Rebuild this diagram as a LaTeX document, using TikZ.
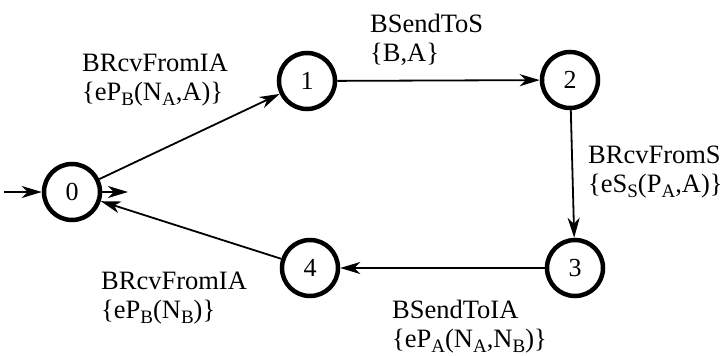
\documentclass[tikz,border=0pt]{standalone}
\usepackage{fontspec}
\setmainfont{Liberation Serif}
\usetikzlibrary{arrows.meta}
% lowered, smaller subscript letters in the message terms
\newcommand\lsub[1]{\raisebox{-0.22em}{\fontsize{19}{19}\selectfont #1}}
\begin{document}
\begin{tikzpicture}[x=1pt,y=-1pt,
  state/.style={circle,draw,line width=4.5pt,minimum size=56pt,inner sep=0pt,
    font=\fontsize{26}{28.5}\selectfont},
  trans/.style={line width=1.8pt,-{Stealth[length=20pt,width=12pt,inset=6pt]}},
  lbl/.style={anchor=base west,align=left,inner sep=0pt,
    font=\fontsize{26.5}{28.5}\selectfont}]
\useasboundingbox (0,0) rectangle (726,356);

% states
\node[state] (n0) at (72,192) {0};
\node[state] (n1) at (307,81) {1};
\node[state] (n2) at (570,80) {2};
\node[state] (n3) at (575,268) {3};
\node[state] (n4) at (310,268) {4};

% entry and exit stubs of state 0
\coordinate (entry) at (4,192);
\coordinate (exit) at (128,192);
\draw[trans] (entry) -- (n0);
\draw[trans] (n0) -- (exit);

% transitions
\draw[trans] (n0) -- (n1);
\draw[trans] (n1) -- (n2);
\draw[trans] (n2) -- (n3);
\draw[trans] (n3) -- (n4);
\draw[trans] (n4) -- (n0);

% transition labels (anchored at the baseline of the last line)
\node[lbl] (l01) at (82,100) {BRcvFromIA\\\{eP\lsub{B}(N\lsub{A},A)\}};
\node[lbl] (l12) at (370,61) {BSendToS\\\{B,A\}};
\node[lbl] (l23) at (588,192) {BRcvFromS\\\{eS\lsub{S}(P\lsub{A},A)\}};
\node[lbl] (l34) at (392,347) {BSendToIA\\\{eP\lsub{A}(N\lsub{A},N\lsub{B})\}};
\node[lbl] (l40) at (101,318) {BRcvFromIA\\\{eP\lsub{B}(N\lsub{B})\}};
\end{tikzpicture}
\end{document}
